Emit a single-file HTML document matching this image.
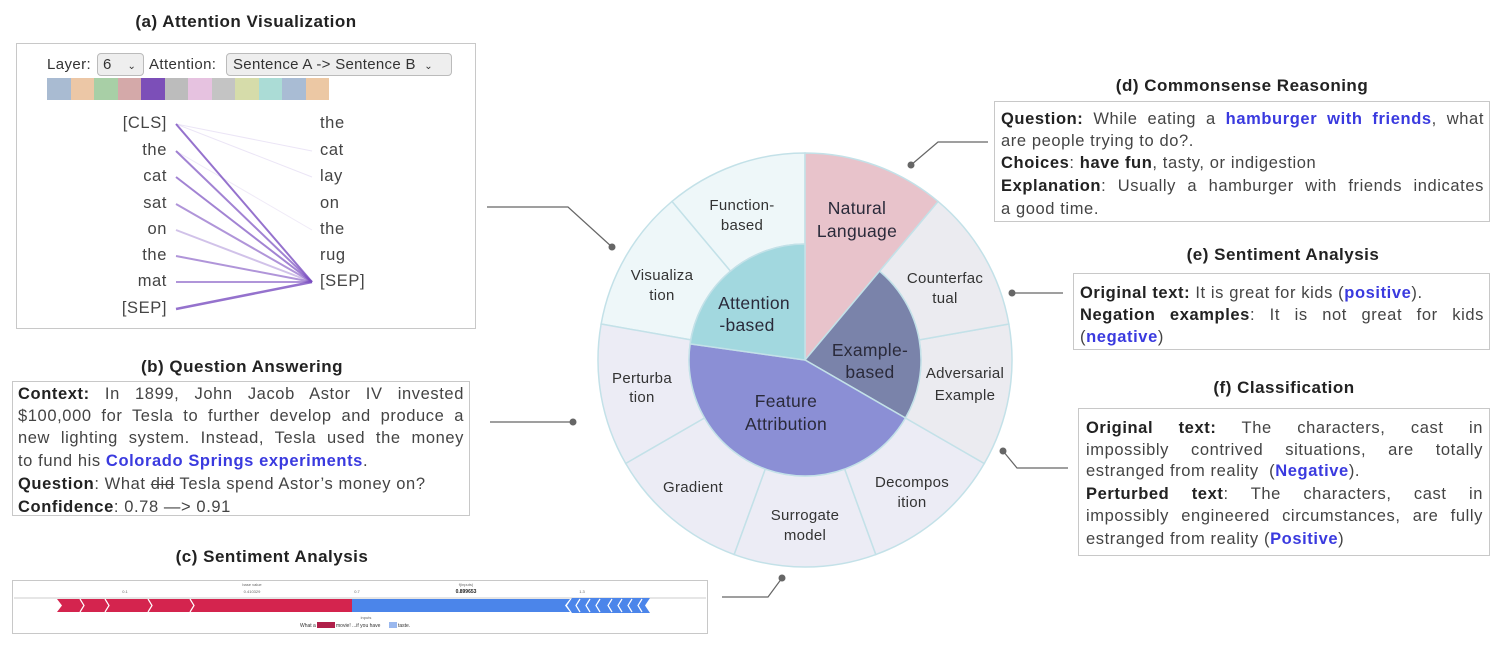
<!DOCTYPE html>
<html><head><meta charset="utf-8"><style>
*{margin:0;padding:0;box-sizing:border-box}
body{width:1502px;height:650px;background:#fff;position:relative;overflow:hidden;font-family:"Liberation Sans",sans-serif;color:#333}
.t{position:absolute;font-weight:bold;font-size:17px;letter-spacing:0.5px;color:#222;text-align:center;white-space:nowrap}
.box{position:absolute;border:1.5px solid #c8c8c8;background:#fff}
.ln{position:absolute;font-size:16.5px;letter-spacing:0.6px;white-space:nowrap;color:#444;line-height:20px}
.j{text-align:justify;text-align-last:justify}
b{color:#222}
.bl{color:#3a3adf;font-weight:bold}
.tok{position:absolute;font-size:16.5px;letter-spacing:0.6px;color:#444}
</style></head><body>

<div class="t" style="left:16px;width:460px;top:12px">(a) Attention Visualization</div>
<div class="box" style="left:16px;top:43px;width:460px;height:286px"></div>
<div class="ln" style="left:47px;top:55px;font-size:15px;letter-spacing:0.4px;color:#333">Layer:</div>
<div style="position:absolute;left:97px;top:53px;width:47px;height:23px;border:1px solid #bbb;border-radius:4px;background:#eee;font-size:15px;padding:2px 0 0 5px">6 <span style="margin-left:12px;font-size:10px">&#8964;</span></div>
<div class="ln" style="left:149px;top:55px;font-size:15px;letter-spacing:0.4px;color:#333">Attention:</div>
<div style="position:absolute;left:226px;top:53px;width:226px;height:23px;border:1px solid #bbb;border-radius:4px;background:#eee;font-size:15px;letter-spacing:0.3px;padding:2px 0 0 6px;white-space:nowrap">Sentence A -&gt; Sentence B <span style="margin-left:4px;font-size:10px">&#8964;</span></div>
<div style="position:absolute;left:47px;top:78px;height:22px;display:flex">
<div style="width:23.5px;background:#a9bbd2"></div><div style="width:23.5px;background:#ecc7a6"></div><div style="width:23.5px;background:#a8cfa6"></div><div style="width:23.5px;background:#d4a9a9"></div><div style="width:23.5px;background:#7c4fb8"></div><div style="width:23.5px;background:#bcbcbc"></div><div style="width:23.5px;background:#e6c2e0"></div><div style="width:23.5px;background:#c4c4c4"></div><div style="width:23.5px;background:#d6dcaa"></div><div style="width:23.5px;background:#abdcd6"></div><div style="width:23.5px;background:#a9bcd4"></div><div style="width:23.5px;background:#ecc8a4"></div></div>
<div class="tok" style="right:1335px;top:114px">[CLS]</div>
<div class="tok" style="right:1335px;top:141px">the</div>
<div class="tok" style="right:1335px;top:167px">cat</div>
<div class="tok" style="right:1335px;top:194px">sat</div>
<div class="tok" style="right:1335px;top:220px">on</div>
<div class="tok" style="right:1335px;top:246px">the</div>
<div class="tok" style="right:1335px;top:272px">mat</div>
<div class="tok" style="right:1335px;top:299px">[SEP]</div>
<div class="tok" style="left:320px;top:114px">the</div>
<div class="tok" style="left:320px;top:141px">cat</div>
<div class="tok" style="left:320px;top:167px">lay</div>
<div class="tok" style="left:320px;top:194px">on</div>
<div class="tok" style="left:320px;top:220px">the</div>
<div class="tok" style="left:320px;top:246px">rug</div>
<div class="tok" style="left:320px;top:272px">[SEP]</div>

<div class="t" style="left:12px;width:460px;top:357px">(b) Question Answering</div>
<div class="box" style="left:12px;top:381px;width:458px;height:135px"></div>
<div class="ln j" style="left:18px;top:384px;width:446px"><b>Context:</b> In 1899, John Jacob Astor IV invested</div>
<div class="ln j" style="left:18px;top:406px;width:446px">$100,000 for Tesla to further develop and produce a</div>
<div class="ln j" style="left:18px;top:428px;width:446px">new lighting system. Instead, Tesla used the money</div>
<div class="ln" style="left:18px;top:451px">to fund his <span class="bl">Colorado Springs experiments</span>.</div>
<div class="ln" style="left:18px;top:474px"><b>Question</b>: What <s>did</s> Tesla spend Astor’s money on?</div>
<div class="ln" style="left:18px;top:497px"><b>Confidence</b>: 0.78 —&gt; 0.91</div>

<div class="t" style="left:12px;width:520px;top:547px">(c) Sentiment Analysis</div>
<div class="box" style="left:12px;top:580px;width:696px;height:54px"></div>

<div class="t" style="left:994px;width:496px;top:76px">(d) Commonsense Reasoning</div>
<div class="box" style="left:994px;top:101px;width:496px;height:121px"></div>
<div class="ln j" style="left:1001px;top:109px;width:483px"><b>Question:</b> While eating a <span class="bl">hamburger with friends</span>, what</div>
<div class="ln" style="left:1001px;top:131px">are people trying to do?.</div>
<div class="ln" style="left:1001px;top:153px"><b>Choices</b>: <b>have fun</b>, tasty, or indigestion</div>
<div class="ln j" style="left:1001px;top:176px;width:483px"><b>Explanation</b>: Usually a hamburger with friends indicates</div>
<div class="ln" style="left:1001px;top:199px">a good time.</div>

<div class="t" style="left:1073px;width:420px;top:245px">(e) Sentiment Analysis</div>
<div class="box" style="left:1073px;top:273px;width:417px;height:77px"></div>
<div class="ln" style="left:1080px;top:283px"><b>Original text:</b> It is great for kids (<span class="bl">positive</span>).</div>
<div class="ln j" style="left:1080px;top:305px;width:404px"><b>Negation examples</b>: It is not great for kids</div>
<div class="ln" style="left:1080px;top:327px">(<span class="bl">negative</span>)</div>

<div class="t" style="left:1078px;width:412px;top:378px">(f) Classification</div>
<div class="box" style="left:1078px;top:408px;width:412px;height:148px"></div>
<div class="ln j" style="left:1086px;top:418px;width:397px"><b>Original text:</b> The characters, cast in</div>
<div class="ln j" style="left:1086px;top:440px;width:397px">impossibly contrived situations, are totally</div>
<div class="ln" style="left:1086px;top:461px">estranged from reality &nbsp;(<span class="bl">Negative</span>).</div>
<div class="ln j" style="left:1086px;top:484px;width:397px"><b>Perturbed text</b>: The characters, cast in</div>
<div class="ln j" style="left:1086px;top:506px;width:397px">impossibly engineered circumstances, are fully</div>
<div class="ln" style="left:1086px;top:529px">estranged from reality (<span class="bl">Positive</span>)</div>

<svg width="1502" height="650" style="position:absolute;left:0;top:0" xmlns="http://www.w3.org/2000/svg">
<g stroke="#7b4fc0" fill="none">
<line x1="176" y1="124" x2="312" y2="282" stroke-width="2" opacity=".8"/>
<line x1="176" y1="151" x2="312" y2="282" stroke-width="2" opacity=".7"/>
<line x1="176" y1="177" x2="312" y2="282" stroke-width="2" opacity=".7"/>
<line x1="176" y1="204" x2="312" y2="282" stroke-width="2" opacity=".6"/>
<line x1="176" y1="230" x2="312" y2="282" stroke-width="2" opacity=".35"/>
<line x1="176" y1="256" x2="312" y2="282" stroke-width="2" opacity=".6"/>
<line x1="176" y1="282" x2="312" y2="282" stroke-width="2" opacity=".6"/>
<line x1="176" y1="309" x2="312" y2="282" stroke-width="2.5" opacity=".8"/>
<line x1="176" y1="124" x2="312" y2="151" stroke-width="1" opacity=".15"/>
<line x1="176" y1="124" x2="312" y2="177" stroke-width="1" opacity=".15"/>
<line x1="176" y1="151" x2="312" y2="230" stroke-width="1" opacity=".12"/>
</g>
<line x1="14" y1="598" x2="706" y2="598" stroke="#ccc"/>
<g font-size="4" fill="#666" text-anchor="middle"><text x="125" y="593">0.1</text><text x="252" y="593">0.410329</text><text x="357" y="593">0.7</text><text x="252" y="586">base value</text><text x="466" y="586">f(inputs)</text><text x="582" y="593">1.3</text></g>
<text x="466" y="593" font-size="5" font-weight="bold" text-anchor="middle" fill="#222">0.899653</text>
<polygon points="57,599 352,599 352,612 57,612 62,605.5" fill="#d4244e"/>
<polygon points="352,599 570,599 565,605.5 570,612 352,612" fill="#4b85ea"/>
<g fill="#4b85ea"><polygon points="572,598 650,598 645,605.5 650,613 572,613 567,605.5"/></g>
<g stroke="#fff" stroke-width="1.2" fill="none"><polyline points="80,599 84,605.5 80,612"/><polyline points="105,599 109,605.5 105,612"/><polyline points="148,599 152,605.5 148,612"/><polyline points="190,599 194,605.5 190,612"/>
<polyline points="580,599 576,605.5 580,612"/><polyline points="590,599 586,605.5 590,612"/><polyline points="600,599 596,605.5 600,612"/><polyline points="612,599 608,605.5 612,612"/><polyline points="622,599 618,605.5 622,612"/><polyline points="632,599 628,605.5 632,612"/><polyline points="642,599 638,605.5 642,612"/></g>
<text x="366" y="619" font-size="4" fill="#666" text-anchor="middle">inputs</text>
<text x="300" y="627" font-size="5" fill="#333">What a</text><rect x="317" y="622" width="18" height="6" fill="#b0204a"/><text x="336" y="627" font-size="5" fill="#333">movie! ...if you have</text><rect x="389" y="622" width="8" height="6" fill="#9ab8ee"/><text x="398" y="627" font-size="5" fill="#333">taste.</text>

<g stroke="#666" stroke-width="1.2" fill="none">
<polyline points="487,207 568,207 612,247"/>
<polyline points="490,422 573,422"/>
<polyline points="722,597 768,597 782,578"/>
<polyline points="911,165 938,142 988,142"/>
<polyline points="1012,293 1063,293"/>
<polyline points="1003,451 1017,468 1068,468"/>
</g>
<g fill="#666"><circle cx="612" cy="247" r="3.5"/><circle cx="573" cy="422" r="3.5"/><circle cx="782" cy="578" r="3.5"/><circle cx="911" cy="165" r="3.5"/><circle cx="1012" cy="293" r="3.5"/><circle cx="1003" cy="451" r="3.5"/></g>

<g id="pie"></g>
<g font-size="15" letter-spacing="0.3" fill="#333" text-anchor="middle">
<text x="742" y="210">Function-</text><text x="742" y="230">based</text>
<text x="662" y="280">Visualiza</text><text x="662" y="300">tion</text>
<text x="642" y="383">Perturba</text><text x="642" y="402">tion</text>
<text x="693" y="492">Gradient</text>
<text x="805" y="520">Surrogate</text><text x="805" y="540">model</text>
<text x="912" y="487">Decompos</text><text x="912" y="507">ition</text>
<text x="965" y="378">Adversarial</text><text x="965" y="400">Example</text>
<text x="945" y="283">Counterfac</text><text x="945" y="303">tual</text>
</g>
<g font-size="17.5" letter-spacing="0.3" fill="#2a2a3a" text-anchor="middle">
<text x="857" y="214">Natural</text><text x="857" y="237">Language</text>
<text x="754" y="309">Attention</text><text x="747" y="331">-based</text>
<text x="870" y="356">Example-</text><text x="870" y="378">based</text>
<text x="786" y="407">Feature</text><text x="786" y="430">Attribution</text>
</g>
</svg>
<script>
var cx=805,cy=360,R=207,r=116;
function p(a,rad){a=a*Math.PI/180;return (cx+rad*Math.sin(a)).toFixed(2)+","+(cy-rad*Math.cos(a)).toFixed(2);}
function ring(a1,a2,r1,r2,fill){var l=(a2-a1)>180?1:0;
return '<path d="M'+p(a1,r2)+' A'+r2+','+r2+' 0 '+l+' 1 '+p(a2,r2)+' L'+p(a2,r1)+(r1>0?' A'+r1+','+r1+' 0 '+l+' 0 '+p(a1,r1):'')+' Z" fill="'+fill+'" stroke="#c3e1e8" stroke-width="1.5"/>';}
var s='';
var outer=[[320,360,'#eef7f9'],[280,320,'#eef7f9'],[240,280,'#ececf5'],[200,240,'#ececf5'],[160,200,'#ececf5'],[120,160,'#ececf5'],[80,120,'#ebebf0'],[40,80,'#ebebf0']];
outer.forEach(function(o){s+=ring(o[0],o[1],r,R,o[2]);});
s+=ring(0,40,0,R,'#e8c3cb');
s+=ring(40,120,0,r,'#7a83aa');
s+=ring(120,278,0,r,'#8b8fd5');
s+=ring(278,360,0,r,'#a2d8df');
document.getElementById('pie').innerHTML=s;
</script>
</body></html>
